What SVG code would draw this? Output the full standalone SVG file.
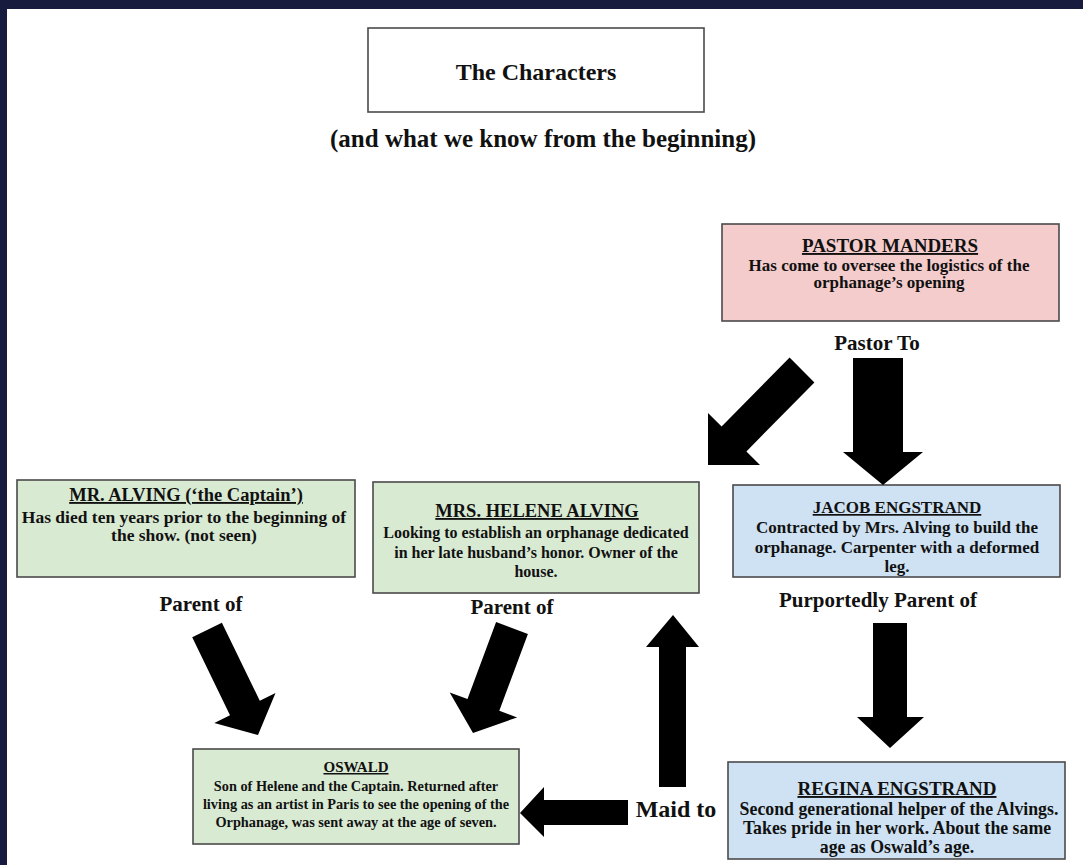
<svg xmlns="http://www.w3.org/2000/svg" width="1083" height="865" viewBox="0 0 1083 865">
<style>
.t{font-family:"Liberation Serif","Times New Roman",serif;font-weight:bold;fill:#111;text-anchor:middle}
.box{stroke:#4a4a4a;stroke-width:1.6}
.ttl{text-decoration:underline}
.arr{fill:#000}
</style>
<rect x="0" y="0" width="1083" height="865" fill="#171b3d"/>
<rect x="7" y="9" width="1076" height="856" fill="#ffffff"/>

<g id="header">
<rect class="box" x="368" y="28" width="336" height="84" fill="#fff"/>
<text class="t" x="536" y="80" font-size="24">The Characters</text>
<text class="t" x="543" y="147" font-size="25">(and what we know from the beginning)</text>
</g>

<g id="pastor-manders">
<rect class="box" x="722" y="224" width="337" height="97" fill="#f4cccc"/>
<text class="t ttl" x="890" y="252" font-size="19">PASTOR MANDERS</text>
<text class="t" x="889" y="271" font-size="17">Has come to oversee the logistics of the</text>
<text class="t" x="889" y="288" font-size="17">orphanage’s opening</text>
</g>

<g id="mr-alving">
<rect class="box" x="17" y="480" width="338" height="97" fill="#d9ead3"/>
<text class="t ttl" x="186" y="501" font-size="18.5">MR. ALVING (‘the Captain’)</text>
<text class="t" x="184" y="523" font-size="17.5">Has died ten years prior to the beginning of</text>
<text class="t" x="184" y="541" font-size="17.5">the show. (not seen)</text>
</g>

<g id="mrs-helene-alving">
<rect class="box" x="373" y="482" width="326" height="111" fill="#d9ead3"/>
<text class="t ttl" x="537" y="517" font-size="18.5">MRS. HELENE ALVING</text>
<text class="t" x="536" y="538" font-size="16">Looking to establish an orphanage dedicated</text>
<text class="t" x="536" y="558" font-size="16">in her late husband’s honor. Owner of the</text>
<text class="t" x="536" y="577" font-size="16">house.</text>
</g>

<g id="jacob-engstrand">
<rect class="box" x="733" y="485" width="327" height="92" fill="#cfe2f3"/>
<text class="t ttl" x="897" y="513" font-size="17">JACOB ENGSTRAND</text>
<text class="t" x="897" y="533" font-size="17">Contracted by Mrs. Alving to build the</text>
<text class="t" x="897" y="553" font-size="17">orphanage. Carpenter with a deformed</text>
<text class="t" x="897" y="572" font-size="17">leg.</text>
</g>

<g id="oswald">
<rect class="box" x="193" y="749" width="326" height="95" fill="#d9ead3"/>
<text class="t ttl" x="356" y="772" font-size="15">OSWALD</text>
<text class="t" x="356" y="791" font-size="14.3">Son of Helene and the Captain. Returned after</text>
<text class="t" x="356" y="809" font-size="14.3">living as an artist in Paris to see the opening of the</text>
<text class="t" x="356" y="827" font-size="14.3">Orphanage, was sent away at the age of seven.</text>
</g>

<g id="regina-engstrand">
<rect class="box" x="728" y="762" width="337" height="97" fill="#cfe2f3"/>
<text class="t ttl" x="897" y="795" font-size="19">REGINA ENGSTRAND</text>
<text class="t" x="899" y="815" font-size="17.8">Second generational helper of the Alvings.</text>
<text class="t" x="897" y="834" font-size="17.8">Takes pride in her work. About the same</text>
<text class="t" x="897" y="853" font-size="17.8">age as Oswald’s age.</text>
</g>

<g id="connectors">
<polygon class="arr" points="789.6,357.6 814.4,382.4 746.4,451.4 760,465 708,465 708,413 721.6,426.6"/>
<polygon class="arr" points="853,358 903,358 903,452 923,452 883,485 843,452 853,452"/>
<text class="t" x="877" y="350" font-size="21">Pastor To</text>
<polygon class="arr" points="192.2,637.2 230,715.2 214.3,722.9 258,735 275.5,693.1 259.8,700.8 221.9,622.8"/>
<text class="t" x="201" y="611" font-size="21">Parent of</text>
<polygon class="arr" points="527.9,633.9 499.3,710.8 517.1,717.4 473,733 449.7,692.4 467.5,699 496.1,622.1"/>
<text class="t" x="512" y="614" font-size="21">Parent of</text>
<polygon class="arr" points="873,623 907,623 907,717 924,717 890,748 857,717 873,717"/>
<text class="t" x="878" y="607" font-size="21">Purportedly Parent of</text>
<polygon class="arr" points="659,787 686,787 686,647 699,647 673,615 646,647 659,647"/>
<polygon class="arr" points="628,800 628,825 544,825 544,837 520,813 544,787 544,800"/>
<text class="t" x="676" y="817" font-size="24">Maid to</text>
</g>
</svg>
